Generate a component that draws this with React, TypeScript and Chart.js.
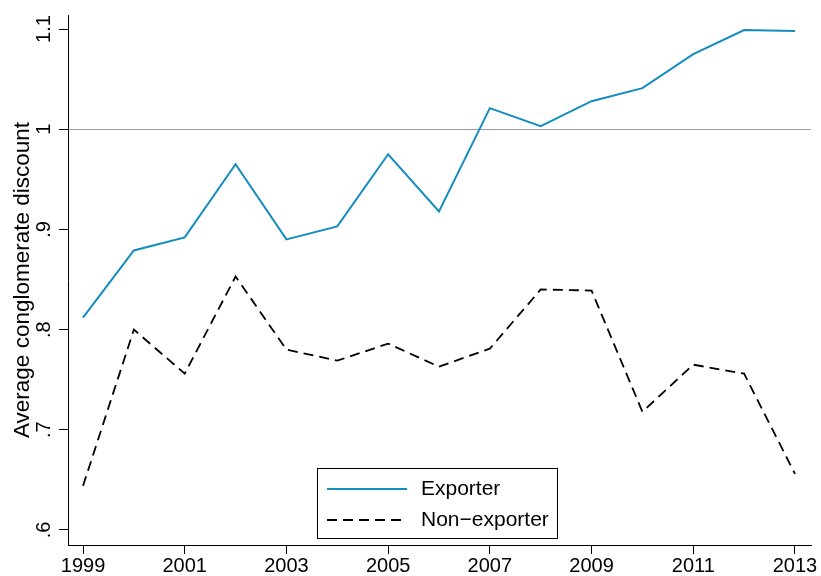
import React, { useEffect, useRef } from "react";
import { Chart, registerables } from "chart.js";

Chart.register(...registerables);

const years = [1999, 2000, 2001, 2002, 2003, 2004, 2005, 2006, 2007, 2008, 2009, 2010, 2011, 2012, 2013];
const exporter = [0.812, 0.879, 0.892, 0.965, 0.890, 0.903, 0.975, 0.918, 1.021, 1.003, 1.028, 1.041, 1.075, 1.099, 1.098];
const nonExporter = [0.644, 0.800, 0.756, 0.853, 0.780, 0.769, 0.786, 0.763, 0.781, 0.840, 0.839, 0.718, 0.765, 0.756, 0.656];
const seriesLabels = ["Exporter", "Non\u2212exporter"];
const xTickValues = [1999, 2001, 2003, 2005, 2007, 2009, 2011, 2013];
const yTickValues = [0.6, 0.7, 0.8, 0.9, 1.0, 1.1];
const yTickLabels = [".6", ".7", ".8", ".9", "1", "1.1"];
const referenceValue = 1;
const yTitle = "Average conglomerate discount";

const FONT = '"Liberation Sans", Arial, Helvetica, sans-serif';

const boxLegend = {
  id: "boxLegend",
  afterDraw(chart: any) {
    const ctx = chart.ctx;
    const bx = 317, by = 468, bw = 240, bh = 70;
    ctx.save();
    ctx.fillStyle = "#fff";
    ctx.fillRect(bx, by, bw, bh);
    ctx.strokeStyle = "#000";
    ctx.lineWidth = 1;
    ctx.setLineDash([]);
    ctx.strokeRect(bx + 0.5, by + 0.5, bw, bh);
    const rows = [489, 520];
    chart.data.datasets.forEach((ds: any, i: number) => {
      const y = rows[i];
      ctx.beginPath();
      ctx.setLineDash(ds.borderDash || []);
      ctx.strokeStyle = ds.borderColor;
      ctx.lineWidth = ds.borderWidth;
      ctx.moveTo(327, y);
      ctx.lineTo(407, y);
      ctx.stroke();
      ctx.setLineDash([]);
      ctx.fillStyle = "#000";
      ctx.font = `21px ${FONT}`;
      ctx.textBaseline = "middle";
      ctx.textAlign = "left";
      ctx.fillText(ds.label, 421, y + 0.5);
    });
    ctx.restore();
  },
};

export default function App() {
  const ref = useRef<HTMLCanvasElement | null>(null);

  useEffect(() => {
    if (!ref.current) return;
    const chart = new Chart(ref.current, {
      type: "line",
      data: {
        datasets: [
          {
            label: seriesLabels[0],
            data: years.map((y, i) => ({ x: y, y: exporter[i] })),
            borderColor: "rgb(20,140,192)",
            backgroundColor: "rgb(20,140,192)",
            borderWidth: 2,
            pointRadius: 0,
            tension: 0,
            fill: false,
          },
          {
            label: seriesLabels[1],
            data: years.map((y, i) => ({ x: y, y: nonExporter[i] })),
            borderColor: "#000",
            backgroundColor: "#000",
            borderWidth: 1.8,
            borderDash: [10, 6],
            pointRadius: 0,
            tension: 0,
            fill: false,
          },
        ],
      },
      options: {
        animation: false,
        responsive: true,
        maintainAspectRatio: false,
        layout: { padding: { top: 15, right: 10, left: 0, bottom: 0 } },
        plugins: {
          legend: { display: false },
          tooltip: { enabled: false },
        },
        scales: {
          x: {
            type: "linear",
            min: 1998.705,
            max: 2013.315,
            afterBuildTicks: (scale: any) => {
              scale.ticks = xTickValues.map((v) => ({ value: v }));
            },
            afterFit: (scale: any) => {
              scale.height = 31;
            },
            grid: {
              drawOnChartArea: false,
              drawTicks: true,
              tickLength: 9,
              tickColor: "#000",
              color: "#000",
            },
            border: { display: true, color: "#000", width: 1 },
            ticks: {
              autoSkip: false,
              maxRotation: 0,
              minRotation: 0,
              padding: 0,
              color: "#000",
              font: { family: FONT, size: 20 },
              callback: (v: any) => String(v),
            },
          },
          y: {
            type: "linear",
            min: 0.585,
            max: 1.114,
            afterBuildTicks: (scale: any) => {
              scale.ticks = yTickValues.map((v) => ({ value: v }));
            },
            afterFit: (scale: any) => {
              scale.width = 68;
            },
            grid: {
              drawOnChartArea: true,
              drawTicks: true,
              tickLength: 9,
              tickColor: "#000",
              lineWidth: 1,
              color: (c: any) =>
                c.tick && Math.abs(c.tick.value - referenceValue) < 1e-9 ? "#9a9a9a" : "rgba(0,0,0,0)",
            },
            border: { display: true, color: "#000", width: 1 },
            ticks: {
              autoSkip: false,
              minRotation: 90,
              maxRotation: 90,
              crossAlign: "center",
              padding: 1,
              color: "#000",
              font: { family: FONT, size: 20 },
              callback: (v: any) => {
                const i = yTickValues.findIndex((t) => Math.abs(t - v) < 1e-9);
                return i >= 0 ? yTickLabels[i] : "";
              },
            },
            title: {
              display: true,
              text: yTitle,
              color: "#000",
              font: { family: FONT, size: 22.5 },
              padding: { top: 9, bottom: 0 },
            },
          },
        },
      },
      plugins: [boxLegend],
    } as any);
    return () => chart.destroy();
  }, []);

  return (
    <div style={{ position: "fixed", left: 0, top: 0, width: 821, height: 576, background: "#fff" }}>
      <canvas ref={ref} />
    </div>
  );
}
